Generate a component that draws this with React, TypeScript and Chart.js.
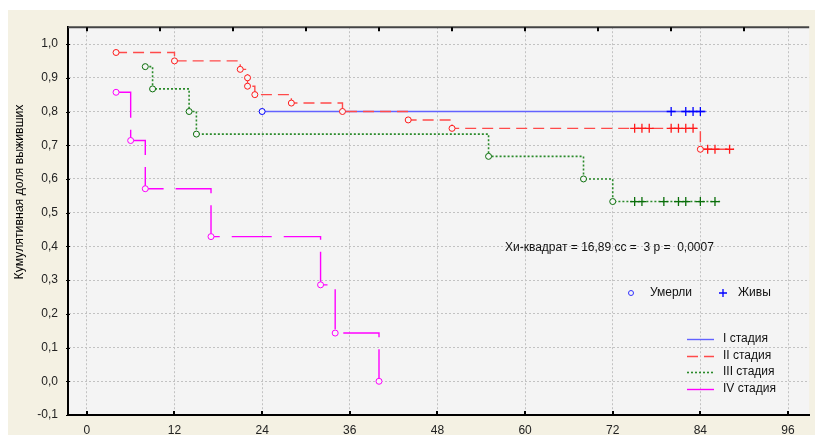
import React, { useEffect, useRef } from 'react';
import { Chart, registerables } from 'chart.js';

Chart.register(...registerables);

const FONT = "'Liberation Sans', Arial, sans-serif";

// axis ticks
const xTicks = [0, 12, 24, 36, 48, 60, 72, 84, 96];
const topTicks = [0, 10, 20, 30, 40, 50, 60, 70, 80, 90];
const yTicks = [-0.1, 0, 0.1, 0.2, 0.3, 0.4, 0.5, 0.6, 0.7, 0.8, 0.9, 1.0];

// Stage I
const s1DeathT = [24];
const s1DeathS = [0.8];
const s1CensT = [80, 82, 83, 84];
const s1CensS = [0.8, 0.8, 0.8, 0.8];
const s1End = 84.8;

// Stage II
const s2DeathT = [4, 12, 21, 22, 22, 23, 28, 35, 44, 50, 84];
const s2DeathS = [0.975, 0.95, 0.925, 0.9, 0.875, 0.85, 0.825, 0.8, 0.775, 0.75, 0.688];
const s2CensT = [75, 76, 77, 80, 81, 82, 83, 85, 86, 88];
const s2CensS = [0.75, 0.75, 0.75, 0.75, 0.75, 0.75, 0.75, 0.688, 0.688, 0.688];
const s2End = 88.6;

// Stage III
const s3DeathT = [8, 9, 14, 15, 55, 68, 72];
const s3DeathS = [0.933, 0.867, 0.8, 0.733, 0.667, 0.6, 0.533];
const s3CensT = [75, 76, 79, 81, 82, 84, 86];
const s3CensS = [0.533, 0.533, 0.533, 0.533, 0.533, 0.533, 0.533];
const s3End = 86.7;

// Stage IV
const s4DeathT = [4, 6, 8, 17, 32, 34, 40];
const s4DeathS = [0.857, 0.714, 0.571, 0.429, 0.286, 0.143, 0];
const s4End = 40;

const stageLabels = ['I стадия', 'II стадия', 'III стадия', 'IV стадия'];
const yTitle = 'Кумулятивная доля выживших';
const statText = 'Хи-квадрат = 16,89 сс =  3 р =  0,0007';
const diedLabel = 'Умерли';
const aliveLabel = 'Живы';

const C1 = '#6262ff', C1m = '#0000ff';
const C2 = '#ff4a4a', C2m = '#ff1a1a';
const C3 = '#2a8a2a', C3m = '#0a6e0a';
const C4 = '#ff00ff', C4m = '#ff00ff';

const pts = (t: number[], s: number[]) => t.map((x, i) => ({ x, y: s[i] }));
const curve = (t: number[], s: number[], end: number) => [...pts(t, s), { x: end, y: s[s.length - 1] }];

const lineStyles = [
  { color: C1, dash: [] as number[], width: 1.4 },
  { color: C2, dash: [11, 6], width: 1.4 },
  { color: C3, dash: [2, 2], width: 1.6 },
  { color: C4, dash: [40, 12], width: 1.4 },
];

const decorPlugin = {
  id: 'decor',
  beforeDraw(chart: any) {
    const { ctx, chartArea: a } = chart;
    ctx.save();
    ctx.fillStyle = '#f4f4f4';
    ctx.fillRect(a.left, a.top, a.right - a.left, a.bottom - a.top);
    ctx.restore();
  },
  afterDraw(chart: any) {
    const { ctx, chartArea: a, scales } = chart;
    const xs = scales.x;
    const ys = scales.y;
    ctx.save();
    // top border
    ctx.strokeStyle = '#444';
    ctx.lineWidth = 2;
    ctx.beginPath();
    ctx.moveTo(a.left, a.top);
    ctx.lineTo(a.right, a.top);
    ctx.stroke();
    // top ticks (inward)
    ctx.strokeStyle = '#000';
    ctx.lineWidth = 2;
    topTicks.forEach((v) => {
      const x = Math.round(xs.getPixelForValue(v));
      ctx.beginPath();
      ctx.moveTo(x, a.top);
      ctx.lineTo(x, a.top + 4);
      ctx.stroke();
    });
    // bottom ticks (inward)
    xTicks.forEach((v) => {
      const x = Math.round(xs.getPixelForValue(v));
      ctx.beginPath();
      ctx.moveTo(x, a.bottom);
      ctx.lineTo(x, a.bottom - 4);
      ctx.stroke();
    });
    // left ticks
    ctx.lineWidth = 1;
    yTicks.forEach((v) => {
      const y = Math.round(ys.getPixelForValue(v)) + 0.5;
      ctx.beginPath();
      ctx.moveTo(a.left - 2, y);
      ctx.lineTo(a.left + 2, y);
      ctx.stroke();
    });

    // y title
    ctx.save();
    ctx.translate(11, 182);
    ctx.rotate(-Math.PI / 2);
    ctx.font = `13px ${FONT}`;
    const w = ctx.measureText(yTitle).width;
    ctx.scale(175 / w, 1);
    ctx.fillStyle = '#000';
    ctx.textAlign = 'center';
    ctx.textBaseline = 'middle';
    ctx.fillText(yTitle, 0, 0);
    ctx.restore();

    // stat annotation
    ctx.font = `12px ${FONT}`;
    ctx.fillStyle = '#111';
    ctx.textAlign = 'left';
    ctx.textBaseline = 'middle';
    ctx.fillText(statText, 497, 238);

    // marker legend
    ctx.strokeStyle = '#3333ff';
    ctx.lineWidth = 1;
    ctx.beginPath();
    ctx.arc(623, 283, 2.5, 0, Math.PI * 2);
    ctx.stroke();
    ctx.fillText(diedLabel, 642, 283);
    ctx.strokeStyle = '#0000ff';
    ctx.lineWidth = 1.3;
    ctx.beginPath();
    ctx.moveTo(715, 279);
    ctx.lineTo(715, 287);
    ctx.moveTo(711, 283);
    ctx.lineTo(719, 283);
    ctx.stroke();
    ctx.fillText(aliveLabel, 730, 283);

    // stage legend
    const ly = [329, 346, 362, 379];
    stageLabels.forEach((lab, i) => {
      const st = lineStyles[i];
      ctx.save();
      ctx.strokeStyle = st.color;
      ctx.lineWidth = st.width;
      ctx.setLineDash(i === 3 ? [] : st.dash);
      ctx.beginPath();
      ctx.moveTo(679, ly[i] + 0.5);
      ctx.lineTo(706, ly[i] + 0.5);
      ctx.stroke();
      ctx.restore();
      ctx.fillStyle = '#111';
      ctx.fillText(lab, 715, ly[i]);
    });
    ctx.restore();
  },
};

export default function App() {
  const ref = useRef<HTMLCanvasElement>(null);
  useEffect(() => {
    if (!ref.current) return;
    const lineDs = (data: any[], i: number) => ({
      data,
      borderColor: lineStyles[i].color,
      borderWidth: lineStyles[i].width,
      borderDash: lineStyles[i].dash,
      stepped: true,
      pointRadius: 0,
      fill: false,
      tension: 0,
    });
    const circleDs = (data: any[], color: string) => ({
      data,
      showLine: false,
      pointStyle: 'circle',
      pointRadius: 3,
      pointBorderWidth: 1,
      pointBorderColor: color,
      pointBackgroundColor: '#f6f6f6',
    });
    const crossDs = (data: any[], color: string) => ({
      data,
      showLine: false,
      pointStyle: 'cross',
      pointRadius: 4.5,
      pointBorderWidth: 1.3,
      pointBorderColor: color,
      pointBackgroundColor: color,
    });
    const chart = new Chart(ref.current, {
      type: 'line',
      data: {
        datasets: [
          circleDs(pts(s4DeathT, s4DeathS), C4m),
          circleDs(pts(s3DeathT, s3DeathS), C3m),
          crossDs(pts(s3CensT, s3CensS), C3m),
          circleDs(pts(s2DeathT, s2DeathS), C2m),
          crossDs(pts(s2CensT, s2CensS), C2m),
          circleDs(pts(s1DeathT, s1DeathS), C1m),
          crossDs(pts(s1CensT, s1CensS), C1m),
          lineDs(curve(s4DeathT, s4DeathS, s4End), 3),
          lineDs(curve(s3DeathT, s3DeathS, s3End), 2),
          lineDs(curve(s2DeathT, s2DeathS, s2End), 1),
          lineDs(curve(s1DeathT, s1DeathS, s1End), 0),
        ] as any,
      },
      options: {
        responsive: false,
        animation: false,
        devicePixelRatio: 1,
        events: [],
        layout: { padding: { top: 5, right: 0, left: 0, bottom: 0 } },
        plugins: {
          legend: { display: false },
          tooltip: { enabled: false },
          title: { display: false },
        },
        scales: {
          x: {
            type: 'linear',
            min: -2.58,
            max: 98.9,
            afterBuildTicks: (s: any) => {
              s.ticks = xTicks.map((v) => ({ value: v }));
            },
            afterFit: (s: any) => {
              s.height = 20;
            },
            grid: { color: '#c2c2c2', lineWidth: 1, drawTicks: false },
            border: { display: true, color: '#000', width: 2, dash: [2, 2] },
            ticks: {
              padding: 8,
              autoSkip: false,
              maxRotation: 0,
              color: '#222',
              font: { family: FONT, size: 12 },
              callback: (v: any) => String(v),
            },
          },
          y: {
            type: 'linear',
            min: -0.1,
            max: 1.05,
            afterBuildTicks: (s: any) => {
              s.ticks = yTicks.map((v) => ({ value: v }));
            },
            afterFit: (s: any) => {
              s.width = 60;
            },
            grid: { color: '#c2c2c2', lineWidth: 1, drawTicks: false },
            border: { display: true, color: '#000', width: 2, dash: [2, 2] },
            ticks: {
              padding: 10,
              color: '#222',
              font: { family: FONT, size: 12 },
              callback: (v: any) => Number(v).toFixed(1).replace('.', ','),
            },
          },
        },
      } as any,
      plugins: [decorPlugin],
    });
    return () => chart.destroy();
  }, []);

  return (
    <div
      style={{
        position: 'absolute',
        left: 8,
        top: 10,
        width: 807,
        height: 425,
        background: '#f4f1e3',
      }}
    >
      <canvas ref={ref} width={807} height={425} style={{ display: 'block', width: 807, height: 425 }} />
    </div>
  );
}
